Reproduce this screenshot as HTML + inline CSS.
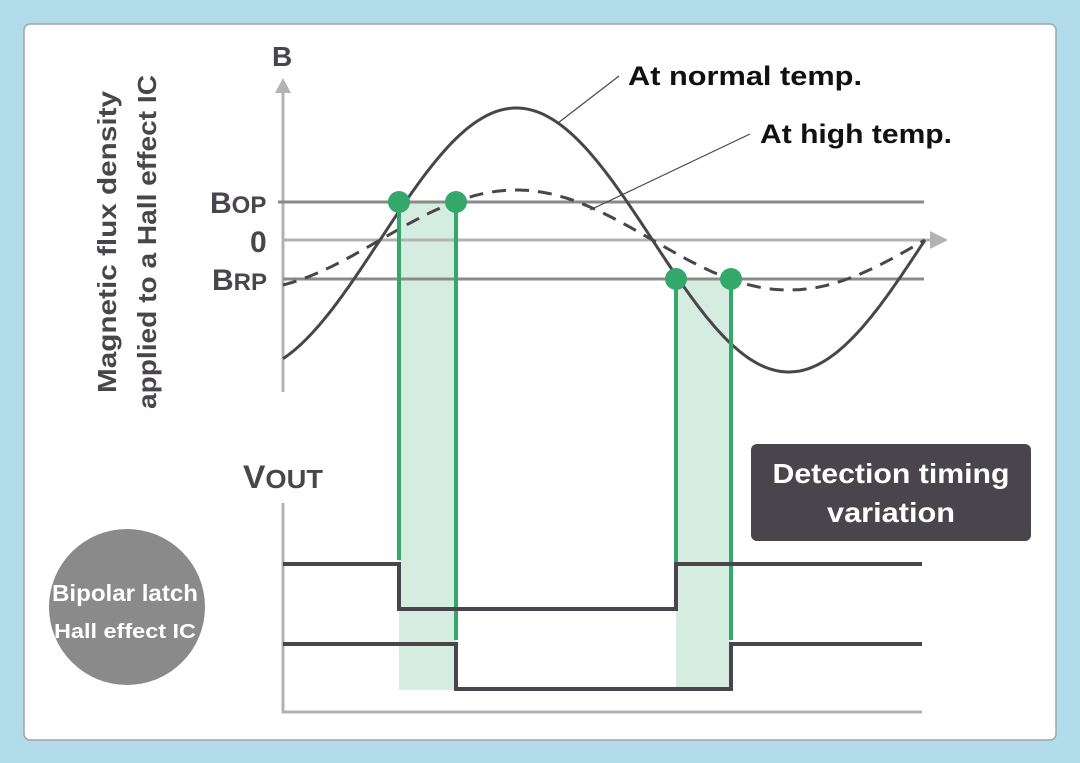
<!DOCTYPE html>
<html><head><meta charset="utf-8"><style>
html,body{margin:0;padding:0;width:1080px;height:763px;background:#b3dcea;overflow:hidden}
svg{position:absolute;left:0;top:0}
</style></head><body>
<svg width="1080" height="763" xmlns="http://www.w3.org/2000/svg" font-family="Liberation Sans, sans-serif" font-weight="bold">
<rect x="24" y="24" width="1032" height="716" rx="6" fill="#fff" stroke="#9aa9ae" stroke-width="1.5"/>
<rect x="399" y="202" width="57" height="488" fill="#d5ede1"/>
<rect x="676" y="279" width="55" height="411" fill="#d5ede1"/>
<line x1="283" y1="90" x2="283" y2="392" stroke="#b3b3b3" stroke-width="3"/>
<polygon points="275,93 291,93 283,78" fill="#b3b3b3"/>
<line x1="283" y1="240" x2="932" y2="240" stroke="#b3b3b3" stroke-width="3"/>
<polygon points="930,231 930,249 948,240" fill="#b3b3b3"/>
<line x1="278" y1="202" x2="924" y2="202" stroke="#8a8a8a" stroke-width="3"/>
<line x1="283" y1="279" x2="924" y2="279" stroke="#8a8a8a" stroke-width="3"/>
<path id="solid" fill="none" stroke="#4a454c" stroke-width="3"/>
<path id="dash" fill="none" stroke="#4a454c" stroke-width="3" stroke-dasharray="14,9"/>
<line x1="558" y1="123" x2="619" y2="76" stroke="#4a454c" stroke-width="1.2"/>
<line x1="590" y1="210" x2="750" y2="134" stroke="#4a454c" stroke-width="1.2"/>
<text x="628" y="85" font-size="27" fill="#111" textLength="234" lengthAdjust="spacingAndGlyphs">At normal temp.</text>
<text x="760" y="143" font-size="27" fill="#111" textLength="192" lengthAdjust="spacingAndGlyphs">At high temp.</text>
<text x="272" y="66" font-size="28" fill="#4a454c">B</text>
<text x="210" y="213" font-size="30" fill="#4a454c">B<tspan font-size="24">OP</tspan></text>
<text x="250" y="252" font-size="30" fill="#4a454c">0</text>
<text x="212" y="290" font-size="30" fill="#4a454c">B<tspan font-size="24">RP</tspan></text>
<g stroke="#33a86a" stroke-width="4">
<line x1="399" y1="202" x2="399" y2="560"/>
<line x1="456" y1="202" x2="456" y2="640"/>
<line x1="676" y1="279" x2="676" y2="563"/>
<line x1="731" y1="279" x2="731" y2="640"/>
</g>
<g fill="#33a86a">
<circle cx="399" cy="202" r="11"/><circle cx="456" cy="202" r="11"/>
<circle cx="676" cy="279" r="11"/><circle cx="731" cy="279" r="11"/>
</g>
<polyline points="283,503 283,712 922,712" fill="none" stroke="#b3b3b3" stroke-width="3"/>
<polyline points="283,564 399,564 399,609 676,609 676,564 922,564" fill="none" stroke="#4a454c" stroke-width="4"/>
<polyline points="283,644 456,644 456,689 731,689 731,644 922,644" fill="none" stroke="#4a454c" stroke-width="4"/>
<text x="243" y="488" font-size="32" fill="#4a454c" textLength="80" lengthAdjust="spacingAndGlyphs">V<tspan font-size="26">OUT</tspan></text>
<circle cx="127" cy="607" r="78" fill="#8a8a8a"/>
<text x="125" y="601" font-size="23" fill="#fff" text-anchor="middle" textLength="146" lengthAdjust="spacingAndGlyphs">Bipolar latch</text>
<text x="125" y="638" font-size="20" fill="#fff" text-anchor="middle" textLength="142" lengthAdjust="spacingAndGlyphs">Hall effect IC</text>
<rect x="751" y="444" width="280" height="97" rx="6" fill="#4a454c"/>
<text x="891" y="483" font-size="28" fill="#fff" text-anchor="middle" textLength="237" lengthAdjust="spacingAndGlyphs">Detection timing</text>
<text x="891" y="522" font-size="28" fill="#fff" text-anchor="middle" textLength="128" lengthAdjust="spacingAndGlyphs">variation</text>
<text transform="translate(116,242) rotate(-90)" font-size="26" fill="#4a454c" text-anchor="middle" textLength="302" lengthAdjust="spacingAndGlyphs">Magnetic flux density</text>
<text transform="translate(156,242) rotate(-90)" font-size="26" fill="#4a454c" text-anchor="middle" textLength="334" lengthAdjust="spacingAndGlyphs">applied to a Hall effect IC</text>
</svg>
<script>
function mk(a){var d="";for(var x=283;x<=925;x+=3){var y=240-a*Math.sin((x-380)/545*2*Math.PI);d+=(x==283?"M":"L")+x+","+y.toFixed(1);}return d;}
document.getElementById("solid").setAttribute("d",mk(132));
document.getElementById("dash").setAttribute("d",mk(50));
</script>
</body></html>
